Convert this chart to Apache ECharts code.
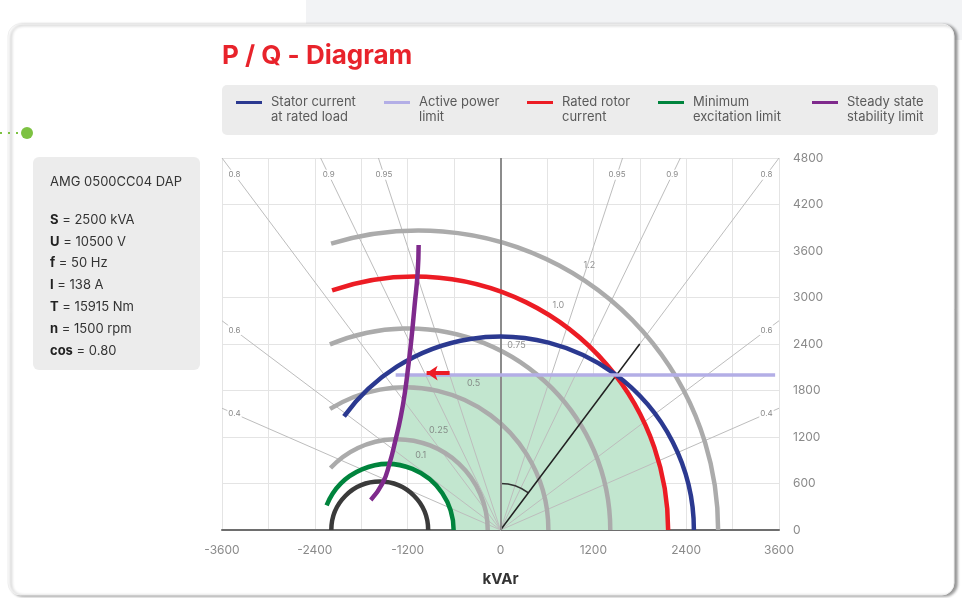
<!DOCTYPE html>
<html>
<head>
<meta charset="utf-8">
<script src="https://cdn.jsdelivr.net/npm/echarts@6/dist/echarts.min.js"></script>
<style>
  html, body { margin: 0; padding: 0; background: #fff; }
  #main { width: 962px; height: 598px; }
</style>
</head>
<body>
<div id="main"></div>
<script>
// axis ticks
const xLabelValues = [-3600, -2400, -1200, 0, 1200, 2400, 3600];
const yLabelValues = [0, 600, 1200, 1800, 2400, 3000, 3600, 4200, 4800];

// arcs: [centre Q, centre P, radius, start deg, end deg]
const statorArc = [[0, 0, 2500, 0, 144]];
const rotorArc = [[-1110, 0, 3277, 0, 109]];
const minExcitationArc = [[-1458, 0, 852, 0, 158]];
const rotorLevelArcs = [
  [-1058, 0, 3871, 0, 107],
  [-1187, 0, 2606, 0, 113],
  [-1226, 0, 1845, 0, 122],
  [-1339, 0, 1174, 0, 137]
];
const zeroExcitationArc = [[-1561, 0, 626, 0, 180]];
const angleArc = [[0, 0, 600, 53, 90]];

// rotor current level labels [Q, P, text]
const rotorLevelLabels = [
  [1148, 3419, '1.2'],
  [748, 2903, '1.0'],
  [206, 2387, '0.75'],
  [-348, 1897, '0.5'],
  [-800, 1290, '0.25'],
  [-1032, 968, '0.1']
];

// power factor lines
const powerFactors = [0.4, 0.6, 0.8, 0.9, 0.95];

// straight lines [Q, P]
const activePowerLimit = [[-1355, 2000], [3550, 2000]];
const ratedLoadLine = [[0, 0], [1800, 2400]];
const limitArrow = [[-658, 2025], [-955, 2025]];

// steady state stability limit
const stabilityLimit = [
  [-1677, 387], [-1523, 606], [-1432, 865], [-1360, 1150], [-1290, 1458],
  [-1235, 1780], [-1187, 2155], [-1150, 2480], [-1110, 2900],
  [-1071, 3316], [-1058, 3677]
];

// operating area outline
const operatingArea = [
  [-1187, 2000], [-1240, 1700], [-1290, 1458], [-1360, 1150], [-1435, 851],
  [-1300, 837], [-1150, 794], [-1000, 718], [-850, 597], [-720, 426], [-640, 238], [-606, 0],
  [2167, 0], [2129, 500], [2041, 900], [1898, 1300], [1710, 1670], [1486, 2000]
];

// machine data
const machineName = 'AMG 0500CC04 DAP';
const specLines = [
  ['S', '2500 kVA'], ['U', '10500 V'], ['f', '50 Hz'], ['I', '138 A'],
  ['T', '15915 Nm'], ['n', '1500 rpm'], ['cos', '0.80']
];

const FONT = 'Inter';
const C_BLUE = '#2b3990';
const C_LAV = '#b3aee6';
const C_RED = '#ec1c24';
const C_GREEN = '#00843d';
const C_PURPLE = '#7f2a8c';
const C_GREY = '#ababab';

const N_STATOR = 'Stator current\nat rated load';
const N_ACTIVE = 'Active power\nlimit';
const N_ROTOR = 'Rated rotor\ncurrent';
const N_MINEX = 'Minimum\nexcitation limit';
const N_STAB = 'Steady state\nstability limit';

function arcRenderer(color, width) {
  return function (params, api) {
    const c = api.coord([api.value(0), api.value(1)]);
    const r = api.size([api.value(2), 0])[0];
    const a1 = api.value(3) * Math.PI / 180;
    const a2 = api.value(4) * Math.PI / 180;
    return {
      type: 'arc',
      shape: { cx: c[0], cy: c[1], r: r, startAngle: -a2, endAngle: -a1, clockwise: true },
      style: { stroke: color, lineWidth: width, fill: 'none' }
    };
  };
}

function arcSeries(name, data, color, width, z) {
  return {
    name: name,
    type: 'custom',
    data: data,
    z: z,
    itemStyle: { color: color },
    renderItem: arcRenderer(color, width)
  };
}

const pfData = [];
powerFactors.forEach((pf) => { pfData.push([pf, -1]); pfData.push([pf, 1]); });

const legendNames = [N_STATOR, N_ACTIVE, N_ROTOR, N_MINEX, N_STAB];
const legendLeft = [236, 384, 527, 658, 812];

const chart = echarts.init(document.getElementById('main'));

const option = {
  backgroundColor: '#ffffff',
  animation: false,
  title: {
    text: 'P / Q - Diagram',
    left: 222,
    top: 43,
    padding: 0,
    textStyle: { color: '#e8232b', fontFamily: FONT, fontSize: 26, fontWeight: 'bold' }
  },
  legend: legendNames.map((n, i) => ({
    data: [n],
    left: legendLeft[i],
    top: 80,
    padding: 0,
    icon: 'rect',
    itemWidth: 26,
    itemHeight: 3,
    selectedMode: false,
    formatter: (name) => ' \n' + name,
    textStyle: {
      color: '#5a5a5a', fontFamily: FONT, fontSize: 13, lineHeight: 15,
      padding: [0, 0, 0, 4]
    }
  })),
  grid: { left: 222, right: 183, top: 158, bottom: 68, containLabel: false },
  xAxis: {
    type: 'value',
    min: -3600,
    max: 3600,
    interval: 600,
    name: 'kVAr',
    nameLocation: 'middle',
    nameGap: 42,
    nameTextStyle: { color: '#333', fontFamily: FONT, fontSize: 15, fontWeight: 'bold' },
    axisLine: { lineStyle: { color: '#6e6e6e', width: 2 } },
    axisTick: { show: false },
    axisLabel: {
      color: '#8a8a8a', fontFamily: FONT, fontSize: 12, margin: 14,
      formatter: (v) => (xLabelValues.includes(v) ? String(v) : '')
    },
    splitLine: { lineStyle: { color: '#e4e4e4', width: 1 } }
  },
  yAxis: {
    type: 'value',
    position: 'right',
    min: 0,
    max: 4800,
    interval: 600,
    axisLine: { show: false },
    axisTick: { show: false },
    axisLabel: {
      color: '#8a8a8a', fontFamily: FONT, fontSize: 12, margin: 14,
      formatter: (v) => (yLabelValues.includes(v) ? String(v) : '')
    },
    splitLine: { lineStyle: { color: '#e4e4e4', width: 1 } }
  },
  graphic: [
    { type: 'rect', z: -10, shape: { x: 306, y: -20, width: 700, height: 60, r: 12 }, style: { fill: '#f2f3f5' } },
    {
      type: 'rect', z: -9,
      shape: { x: 8, y: 24, width: 946, height: 571, r: 12 },
      style: { fill: '#fff', stroke: '#efefef', lineWidth: 1, shadowBlur: 3, shadowOffsetX: 3, shadowOffsetY: 1, shadowColor: 'rgba(0,0,0,0.4)' }
    },
    { type: 'line', z: -8, shape: { x1: 0, y1: 133, x2: 22, y2: 133 }, style: { stroke: '#7dc242', lineWidth: 2, lineDash: [2, 6] } },
    { type: 'circle', z: -8, shape: { cx: 27, cy: 133, r: 6 }, style: { fill: '#7dc242' } },
    { type: 'rect', z: -8, shape: { x: 222, y: 85, width: 716, height: 50, r: 5 }, style: { fill: '#ececec' } },
    { type: 'rect', z: -8, shape: { x: 33, y: 157, width: 167, height: 213, r: 6 }, style: { fill: '#ececec' } },
    {
      type: 'text', z: -7, left: 50, top: 176,
      style: { text: machineName, fill: '#333', font: '13px ' + FONT }
    },
    {
      type: 'text', z: -7, left: 50, top: 209,
      style: {
        text: specLines.map((s) => '{b|' + s[0] + '} = ' + s[1]).join('\n'),
        fill: '#333', font: '13px ' + FONT, lineHeight: 21.8,
        rich: { b: { fontWeight: 'bold', fontFamily: FONT, fontSize: 13, fill: '#222', lineHeight: 21.8 } }
      }
    }
  ],
  series: [
    {
      name: 'operating area',
      type: 'custom',
      z: 1,
      data: [0],
      renderItem: function (params, api) {
        return {
          type: 'polygon',
          shape: { points: operatingArea.map((p) => api.coord(p)) },
          style: { fill: '#c2e6cf', stroke: 'none' }
        };
      }
    },
    {
      name: 'power factor',
      type: 'custom',
      z: 2,
      data: pfData,
      renderItem: function (params, api) {
        const pf = api.value(0);
        const side = api.value(1);
        const phi = Math.acos(pf);
        const dx = side * Math.sin(phi);
        const dy = Math.cos(phi);
        const t = Math.min(3600 / Math.abs(dx), 4800 / dy);
        const o = api.coord([0, 0]);
        const e = api.coord([dx * t, dy * t]);
        const l = api.coord([dx * t * 0.955, dy * t * 0.955]);
        return {
          type: 'group',
          children: [
            { type: 'line', shape: { x1: o[0], y1: o[1], x2: e[0], y2: e[1] }, style: { stroke: '#bdbdbd', lineWidth: 1 } },
            {
              type: 'text', x: l[0], y: l[1],
              style: {
                text: String(pf), fill: '#888', font: '8px ' + FONT,
                align: 'center', verticalAlign: 'middle', backgroundColor: '#fff', padding: [1, 1]
              }
            }
          ]
        };
      }
    },
    arcSeries('rotor levels', rotorLevelArcs, C_GREY, 4.5, 3),
    arcSeries('zero excitation', zeroExcitationArc, '#3a3a3a', 4.5, 3),
    arcSeries('angle', angleArc, '#333', 1.5, 4),
    {
      name: 'rated load',
      type: 'line',
      z: 4,
      data: ratedLoadLine,
      symbol: 'none',
      lineStyle: { color: '#222', width: 1.5 },
      markLine: {
        silent: true,
        symbol: 'none',
        label: { show: false },
        lineStyle: { color: '#8c8c8c', width: 2, type: 'solid' },
        data: [{ xAxis: 0 }]
      }
    },
    arcSeries(N_ROTOR, rotorArc, C_RED, 4.5, 5),
    arcSeries(N_STATOR, statorArc, C_BLUE, 4.5, 6),
    arcSeries(N_MINEX, minExcitationArc, C_GREEN, 4.5, 6),
    {
      name: N_ACTIVE,
      type: 'line',
      z: 6,
      data: activePowerLimit,
      symbol: 'none',
      itemStyle: { color: C_LAV },
      lineStyle: { color: C_LAV, width: 3.5 }
    },
    {
      name: N_STAB,
      type: 'line',
      z: 7,
      data: stabilityLimit,
      smooth: true,
      symbol: 'none',
      itemStyle: { color: C_PURPLE },
      lineStyle: { color: C_PURPLE, width: 4.5 }
    },
    {
      name: 'arrow',
      type: 'lines',
      coordinateSystem: 'cartesian2d',
      z: 8,
      symbol: ['none', 'arrow'],
      symbolSize: 11,
      lineStyle: { color: C_RED, width: 4, opacity: 1 },
      data: [{ coords: limitArrow }]
    },
    {
      name: 'level labels',
      type: 'scatter',
      z: 9,
      symbolSize: 0,
      data: rotorLevelLabels,
      label: {
        show: true,
        position: 'inside',
        formatter: (p) => p.data[2],
        color: '#777',
        fontFamily: FONT,
        fontSize: 9
      }
    }
  ]
};

option && chart.setOption(option);
</script>
</body>
</html>
